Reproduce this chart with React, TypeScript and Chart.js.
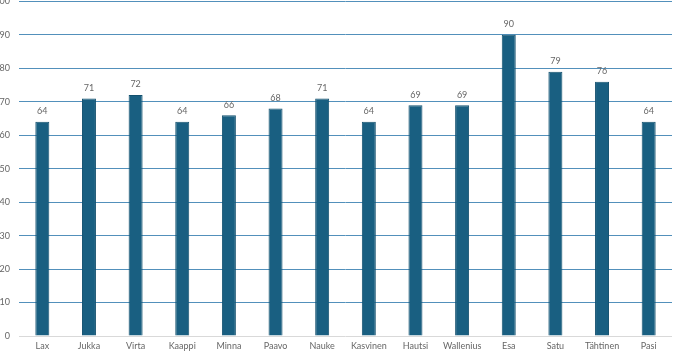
import React, { useEffect, useRef } from "react";
import { Chart, registerables } from "chart.js";

Chart.register(...registerables);

const categories = ["Lax", "Jukka", "Virta", "Kaappi", "Minna", "Paavo", "Nauke", "Kasvinen", "Hautsi", "Wallenius", "Esa", "Satu", "Tähtinen", "Pasi"];
const values = [64, 71, 72, 64, 66, 68, 71, 64, 69, 69, 90, 79, 76, 64];
const yTicks = [0, 10, 20, 30, 40, 50, 60, 70, 80, 90, 100];

const FONT = "Lato, 'Open Sans', sans-serif";

const valueLabels = {
  id: "valueLabels",
  afterDatasetsDraw(chart: any) {
    const ctx = chart.ctx;
    const meta = chart.getDatasetMeta(0);
    ctx.save();
    ctx.font = `9px ${FONT}`;
    ctx.fillStyle = "#666666";
    ctx.textAlign = "center";
    ctx.textBaseline = "bottom";
    meta.data.forEach((bar: any, i: number) => {
      ctx.fillText(String(values[i]), bar.x, bar.y - 6);
    });
    ctx.restore();
  },
};

export default function App() {
  const ref = useRef<HTMLCanvasElement>(null);
  useEffect(() => {
    if (!ref.current) return;
    const chart = new Chart(ref.current, {
      type: "bar",
      data: {
        labels: categories,
        datasets: [
          {
            data: values,
            backgroundColor: "#195f81",
            borderColor: "#13506e",
            borderWidth: 1,
            barPercentage: 0.3,
            categoryPercentage: 1,
          },
        ],
      },
      options: {
        responsive: false,
        animation: false,
        layout: { padding: { top: 0, right: 7, left: 0, bottom: 0 } },
        plugins: { legend: { display: false }, tooltip: { enabled: false } },
        scales: {
          x: {
            grid: { display: false, drawTicks: false },
            border: { display: false },
            afterFit: (scale: any) => {
              scale.height = 19;
            },
            ticks: { color: "#666666", font: { family: FONT, size: 9 }, padding: 5, maxRotation: 0, autoSkip: false },
          },
          y: {
            min: 0,
            max: 100,
            z: 1,
            afterBuildTicks: (scale: any) => {
              scale.ticks = yTicks.map((v) => ({ value: v }));
            },
            afterFit: (scale: any) => {
              scale.width = 19;
            },
            grid: {
              color: (c: any) => (c.tick && c.tick.value === 0 ? "#d9d9d9" : "#5290bb"),
              lineWidth: 1,
              drawTicks: false,
            },
            border: { display: false },
            ticks: { color: "#666666", font: { family: FONT, size: 9 }, padding: 9 },
          },
        },
      },
      plugins: [valueLabels],
    });
    return () => chart.destroy();
  }, []);
  return (
    <div style={{ position: "absolute", left: 0, top: -13, width: 679, height: 368 }}>
      <canvas ref={ref} width={679} height={368} style={{ display: "block" }} />
    </div>
  );
}
